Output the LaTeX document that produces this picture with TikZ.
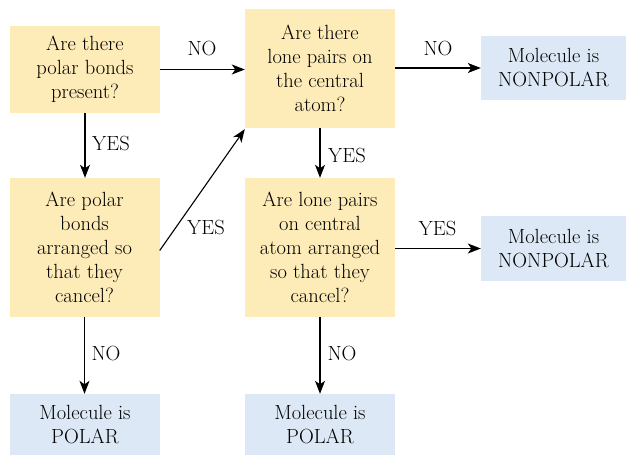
\documentclass[tikz,border=0pt]{standalone}
\usetikzlibrary{arrows.meta}
\definecolor{qyel}{RGB}{253,235,184}
\definecolor{ablue}{RGB}{220,232,245}
\tikzset{
  qbox/.style={fill=qyel, inner sep=0pt, align=center, font=\fontsize{20.5}{24}\selectfont},
  abox/.style={fill=ablue, inner sep=0pt, align=center, font=\fontsize{20.5}{24}\selectfont},
  lbl/.style={font=\fontsize{20.5}{24}\selectfont, inner sep=0pt},
  conn/.style={line width=1.1pt, -{Stealth[length=13pt,width=10pt,inset=3.5pt]}}
}
\begin{document}
\begin{tikzpicture}[x=1pt,y=-1pt]
\useasboundingbox (0,0) rectangle (626,455);
\node[qbox, minimum width=150pt, minimum height=87pt] (A) at (85,69.5) {Are there\\polar bonds\\present?};
\node[qbox, minimum width=150pt, minimum height=119pt] (B) at (320,68.5) {Are there\\lone pairs on\\the central\\atom?};
\node[abox, minimum width=145pt, minimum height=64pt] (C) at (553.5,68) {Molecule is\\NONPOLAR};
\node[qbox, minimum width=150pt, minimum height=139pt] (D) at (84.5,247.5) {Are polar\\bonds\\arranged so\\that they\\cancel?};
\node[qbox, minimum width=150pt, minimum height=139pt] (E) at (320,247.5) {Are lone pairs\\on central\\atom arranged\\so that they\\cancel?};
\node[abox, minimum width=145pt, minimum height=65pt] (F) at (553.5,248.5) {Molecule is\\NONPOLAR};
\node[abox, minimum width=150pt, minimum height=61pt] (G) at (85,424.5) {Molecule is\\POLAR};
\node[abox, minimum width=150pt, minimum height=61pt] (H) at (320,424.5) {Molecule is\\POLAR};
\draw[conn] (A.east) -- (B.west |- A.east);
\draw[conn] (B.east |- C.west) -- (C.west);
\draw[conn] (A.south) -- (A.south |- D.north);
\draw[conn] (B.south) -- (B.south |- E.north);
\draw[conn] ([yshift=-3pt]D.east) -- ([yshift=-1pt]B.south west);
\draw[conn] (E.east |- F.west) -- (F.west);
\draw[conn] (D.south) -- (D.south |- G.north);
\draw[conn] (E.south) -- (E.south |- H.north);
\node[lbl] (l1) at (202,48) {NO};
\node[lbl] (l2) at (438,48) {NO};
\node[lbl] (l3) at (111,143) {YES};
\node[lbl] (l4) at (347,155) {YES};
\node[lbl] (l5) at (206,227) {YES};
\node[lbl] (l6) at (437.5,228) {YES};
\node[lbl] (l7) at (106,353) {NO};
\node[lbl] (l8) at (342,353) {NO};
\end{tikzpicture}
\end{document}
